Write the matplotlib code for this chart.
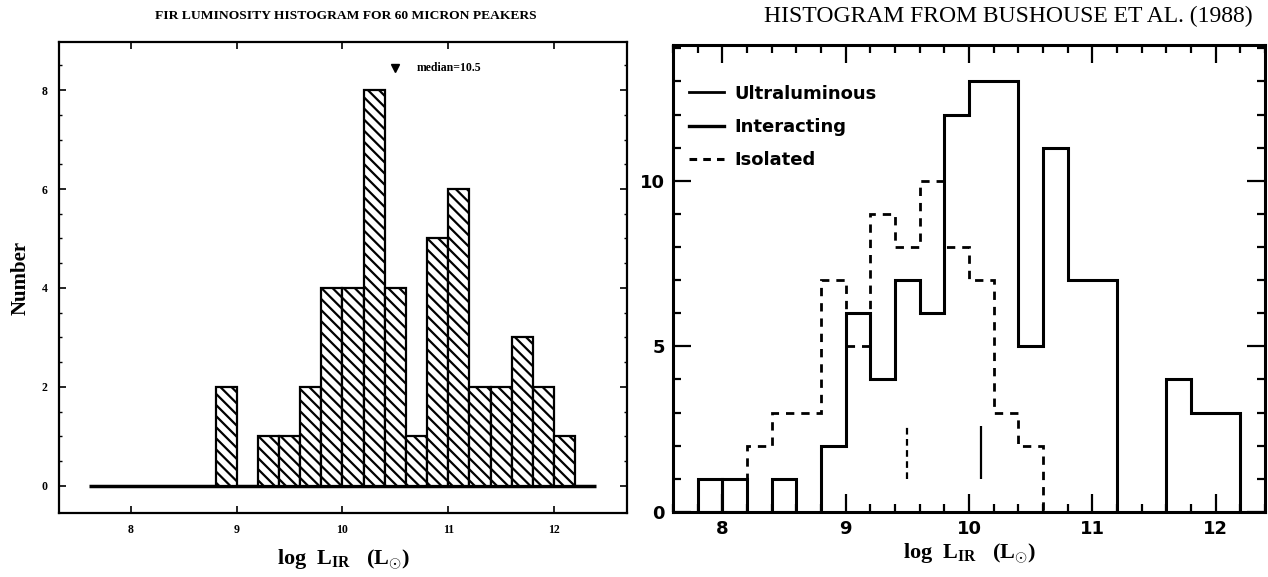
import numpy as np
import matplotlib
matplotlib.use('Agg')
import matplotlib.pyplot as plt
from matplotlib.lines import Line2D

plt.rcParams['mathtext.fontset'] = 'custom'
plt.rcParams['mathtext.rm'] = 'Liberation Serif:bold'
plt.rcParams['mathtext.bf'] = 'Liberation Serif:bold'
plt.rcParams['mathtext.it'] = 'Liberation Serif:bold'
plt.rcParams['hatch.linewidth'] = 1.6

# left panel: 60 micron peakers
peak_left = [8.8, 9.2, 9.4, 9.6, 9.8, 10.0, 10.2, 10.4, 10.6, 10.8, 11.0, 11.2, 11.4, 11.6, 11.8, 12.0]
peak_n = [2, 1, 1, 2, 4, 4, 8, 4, 1, 5, 6, 2, 2, 3, 2, 1]
peak_median = 10.5
left_xticks = [8, 9, 10, 11, 12]
left_yticks = [0, 2, 4, 6, 8]

# right panel: Bushouse et al. (1988)
ultra_lo_left = [7.8, 8.0, 8.4]
ultra_lo_n = [1, 1, 1]
ultra_hi_edges = [11.6, 11.8, 12.2]
ultra_hi_n = [4, 3]
inter_edges = [8.8, 9.0, 9.2, 9.4, 9.6, 9.8, 10.0, 10.4, 10.6, 10.8, 11.2]
inter_n = [2, 6, 4, 7, 6, 12, 13, 5, 11, 7]
iso_edges = [8.2, 8.4, 8.8, 9.0, 9.2, 9.4, 9.6, 9.8, 10.0, 10.2, 10.4, 10.6]
iso_n = [2, 3, 7, 5, 9, 8, 10, 8, 7, 3, 2]
iso_median = 9.5
inter_median = 10.1
right_xticks = [8, 9, 10, 11, 12]
right_yticks = [0, 5, 10]

fig = plt.figure(figsize=(12.68, 5.77), dpi=100)
serif = 'Liberation Serif'

# ---- left panel
ax1 = fig.add_axes([0.0465, 0.111, 0.448, 0.816])
ax1.hlines(0, 7.6, 12.4, color='black', lw=2.5, zorder=1)
ax1.bar(peak_left, peak_n, width=0.2, align='edge', facecolor='white',
        edgecolor='black', hatch='\\\\\\', lw=1.6, zorder=2)
ax1.plot([peak_median], [8.45], marker='v', color='black', ms=6, ls='none')
ax1.text(peak_median + 0.2, 8.45, 'median=10.5', fontsize=8.5, fontweight='bold',
         family=serif, va='center', ha='left')
ax1.set_xlim(7.32, 12.69)
ax1.set_ylim(-0.55, 8.97)
ax1.set_xticks(left_xticks)
ax1.set_yticks(left_yticks)
ax1.set_yticks(np.arange(0, 9, 0.5), minor=True)
ax1.tick_params(direction='in', top=True, right=True, length=5, width=1.2,
                labelsize=8.5, pad=8)
ax1.tick_params(which='minor', direction='in', right=True, length=2.5, width=1)
for lab in ax1.get_xticklabels() + ax1.get_yticklabels():
    lab.set_fontfamily(serif)
    lab.set_fontweight('bold')
for s in ax1.spines.values():
    s.set_linewidth(1.6)
ax1.set_ylabel('Number', fontsize=15, fontweight='bold', family=serif, labelpad=8)
ax1.set_xlabel(r'log  L$_{\mathrm{IR}}$   (L$_{\odot}$)', fontsize=16,
               fontweight='bold', family=serif, labelpad=8)
fig.text(0.273, 0.972, 'FIR LUMINOSITY HISTOGRAM FOR 60 MICRON PEAKERS',
         fontsize=9.7, fontweight='bold', family=serif, ha='center', va='center')

# ---- right panel
ax2 = fig.add_axes([0.5308, 0.1127, 0.4669, 0.8094])
ax2.stairs(iso_n, iso_edges, color='black', lw=2, ls=(0, (3, 2.5)))
ax2.stairs(inter_n, inter_edges, color='black', lw=2.2)
ax2.bar(ultra_lo_left, ultra_lo_n, width=0.2, align='edge', fill=False,
        edgecolor='black', lw=2.2)
ax2.stairs(ultra_hi_n, ultra_hi_edges, color='black', lw=2.2)
ax2.vlines(iso_median, 1.0, 2.6, color='black', lw=1.6, ls=(0, (3, 2)))
ax2.vlines(inter_median, 1.0, 2.6, color='black', lw=1.6)
ax2.set_xlim(7.6, 12.38)
ax2.set_ylim(0, 14.1)
ax2.set_xticks(right_xticks)
ax2.set_xticks(np.arange(7.6, 12.4, 0.2), minor=True)
ax2.set_yticks(right_yticks)
ax2.set_yticks(np.arange(0, 15, 1), minor=True)
ax2.tick_params(direction='in', top=True, right=True, length=13, width=1.6,
                labelsize=13, pad=6)
ax2.tick_params(which='minor', direction='in', top=True, right=True,
                length=6, width=1.6)
for lab in ax2.get_xticklabels() + ax2.get_yticklabels():
    lab.set_fontweight('bold')
for s in ax2.spines.values():
    s.set_linewidth(2.2)
ax2.set_xlabel(r'log  L$_{\mathrm{IR}}$   (L$_{\odot}$)', fontsize=16,
               fontweight='bold', family=serif, labelpad=2)
handles = [Line2D([], [], color='black', lw=2),
           Line2D([], [], color='black', lw=2.4),
           Line2D([], [], color='black', lw=2.2, ls=(0, (2.5, 2)))]
ax2.legend(handles, ['Ultraluminous', 'Interacting', 'Isolated'], loc='upper left',
           frameon=False, prop={'weight': 'bold', 'size': 13}, handlelength=1.9,
           handletextpad=0.6, labelspacing=0.85, bbox_to_anchor=(0.0, 0.95))
fig.text(0.795, 0.972, 'HISTOGRAM FROM BUSHOUSE ET AL. (1988)',
         fontsize=17, family=serif, ha='center', va='center')

fig.savefig('out.png', dpi=100)
